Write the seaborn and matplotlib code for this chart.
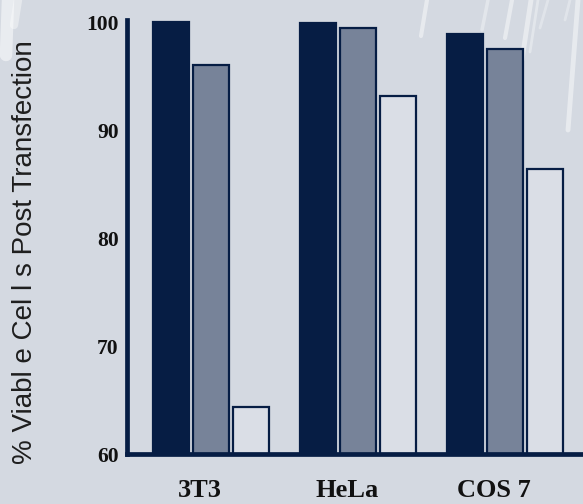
import matplotlib
matplotlib.use("Agg")
import matplotlib.pyplot as plt
from matplotlib.lines import Line2D
from matplotlib.transforms import ScaledTranslation
import seaborn as sns
import pandas as pd

# Cell viability after transfection, three reagents per cell line
cell_lines = ["3T3", "HeLa", "COS 7"]
reagents = ["Reagent A", "Reagent B", "Reagent C"]
viability_a = [100.0, 99.9, 98.9]
viability_b = [96.0, 99.5, 97.5]
viability_c = [64.4, 93.2, 86.4]
y_ticks = [60, 70, 80, 90, 100]
y_label = "% Viabl e Cel l s Post Transfection"

navy = "#061d44"
slate = "#778399"
pale = "#dadee6"
bg = "#d4d9e1"

rows = []
for reagent, values in zip(reagents, [viability_a, viability_b, viability_c]):
    for line, v in zip(cell_lines, values):
        rows.append({"cell_line": line, "reagent": reagent, "viability": v})
df = pd.DataFrame(rows)

sns.set_theme(style="white")
plt.rcParams["font.family"] = ["Liberation Serif", "DejaVu Serif"]

fig = plt.figure(figsize=(5.83, 5.04), dpi=100, facecolor=bg)

# faint white brush strokes in the background
strokes = [
    ((427, 0), (421, 36), 3.0, 0.45),
    ((488, 0), (482, 30), 2.5, 0.35),
    ((512, 0), (505, 38), 3.0, 0.45),
    ((531, 0), (522, 60), 3.5, 0.45),
    ((538, 0), (530, 52), 2.0, 0.35),
    ((548, 0), (540, 28), 2.0, 0.3),
    ((578, 0), (568, 130), 3.5, 0.45),
    ((570, 0), (565, 20), 2.0, 0.3),
    ((8, 0), (6, 55), 9.0, 0.5),
    ((18, 0), (14, 25), 6.0, 0.4),
]
for (x0, y0), (x1, y1), lw, a in strokes:
    fig.add_artist(Line2D([x0 / 583, x1 / 583], [1 - y0 / 504, 1 - y1 / 504],
                          transform=fig.transFigure, color="white", lw=lw,
                          alpha=a, solid_capstyle="round", zorder=0))

ax = fig.add_axes([0.218, 0.099, 0.782, 0.861])
ax.set_facecolor("none")

sns.barplot(data=df, x="cell_line", y="viability", hue="reagent",
            hue_order=reagents, order=cell_lines,
            palette=[navy, slate, pale], saturation=1,
            width=0.816, gap=0.1, edgecolor=navy, linewidth=1.6,
            errorbar=None, legend=False, ax=ax)

ax.set_xlim(-0.57, 2.53)
ax.set_ylim(60, 100.2)
ax.set_yticks(y_ticks)
ax.set_yticklabels([str(t) for t in y_ticks], fontsize=15.5, fontweight="bold",
                   color="#111111")
ax.set_xticks(range(len(cell_lines)))
ax.set_xticklabels(cell_lines, fontsize=19, fontweight="bold", color="#111111")
ax.tick_params(axis="both", length=0)
ax.tick_params(axis="y", pad=6)
ax.tick_params(axis="x", pad=18)
shift = ScaledTranslation(-11 / 100, 0, fig.dpi_scale_trans)
for lbl in ax.get_xticklabels():
    lbl.set_transform(lbl.get_transform() + shift)
ax.set_xlabel("")
ax.set_ylabel("")

for side in ["top", "right"]:
    ax.spines[side].set_visible(False)
for side in ["left", "bottom"]:
    ax.spines[side].set_color(navy)
    ax.spines[side].set_linewidth(3.4)
    ax.spines[side].set_zorder(5)

fig.text(25 / 583, 1 - 252 / 504, y_label, rotation=90, ha="center",
         va="center", fontsize=20, color="#1e1e1e",
         family=["Liberation Sans", "DejaVu Sans"])

fig.savefig("out.png", dpi=100, facecolor=bg)
